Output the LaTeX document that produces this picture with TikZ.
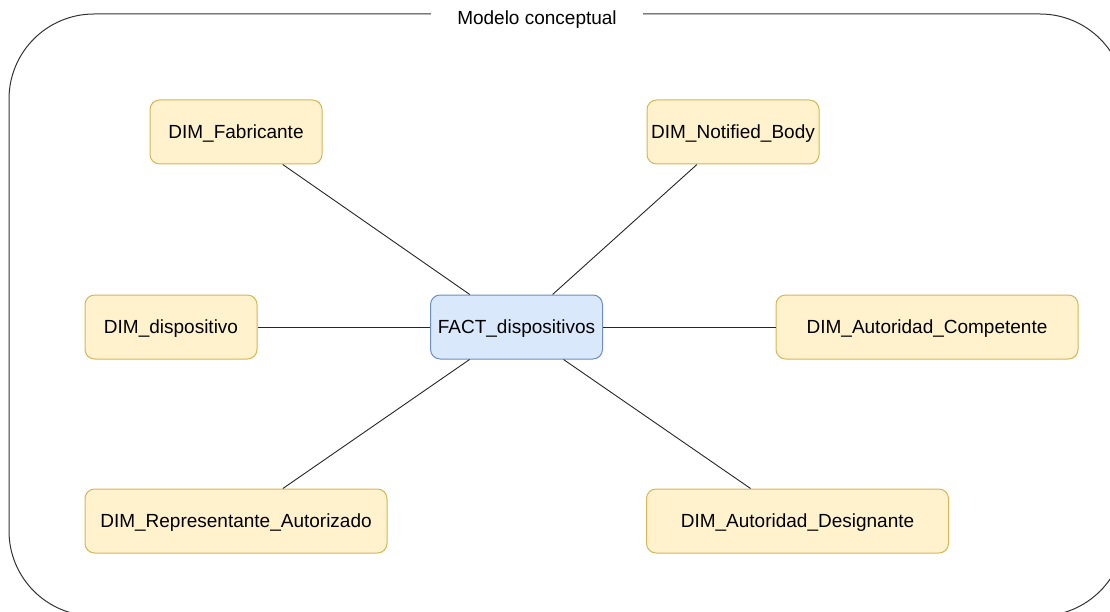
\documentclass[tikz,border=0pt]{standalone}
\usepackage{fontspec}
\setmainfont{Liberation Sans}
\usetikzlibrary{positioning}
\definecolor{dimfill}{HTML}{FFF2CC}
\definecolor{dimdraw}{HTML}{D6B656}
\definecolor{factfill}{HTML}{DAE8FC}
\definecolor{factdraw}{HTML}{6C8EBF}
\tikzset{
    dimnode/.style = {rectangle, rounded corners=9.6pt, draw=dimdraw, fill=dimfill, line width=1pt, minimum width=172pt, minimum height=64pt, inner sep=0pt, text height=14pt, text depth=0.5pt, font=\fontsize{19}{22}\selectfont},
    dimwide/.style = {dimnode, minimum width=302pt},
    factnode/.style = {dimnode, draw=factdraw, fill=factfill},
    edgen/.style = {line width=0.9pt, black!85},
    framebox/.style = {line width=1pt, draw=black!80, rounded corners=85pt},
    titlenode/.style = {fill=white, inner xsep=26pt, inner ysep=4pt, text height=14pt, text depth=0.5pt, font=\fontsize{19}{22}\selectfont}
}
\begin{document}
\begin{tikzpicture}[x=1pt,y=-1pt]
%
\clip (0,0) rectangle (1110,612);
\draw[framebox] (9,14) rectangle (1125,616);
\node[titlenode] at (537,18) (title) {Modelo conceptual};
%
\node[factnode] at (516.5,327) (fact) {FACT\_dispositivos};
\node[dimnode] at (236,132) (fab) {DIM\_Fabricante};
\node[dimnode] at (733,132) (nb) {DIM\_Notified\_Body};
\node[dimnode] at (171,327) (disp) {DIM\_dispositivo};
\node[dimwide] at (927,327) (comp) {DIM\_Autoridad\_Competente};
\node[dimwide] at (236,521) (rep) {DIM\_Representante\_Autorizado};
\node[dimwide] at (797.5,521) (desig) {DIM\_Autoridad\_Designante};
%
\draw[edgen] (fact) -- (fab);
\draw[edgen] (fact) -- (nb);
\draw[edgen] (fact) -- (disp);
\draw[edgen] (fact) -- (comp);
\draw[edgen] (fact) -- (rep);
\draw[edgen] (fact) -- (desig);

\end{tikzpicture}
\end{document}
